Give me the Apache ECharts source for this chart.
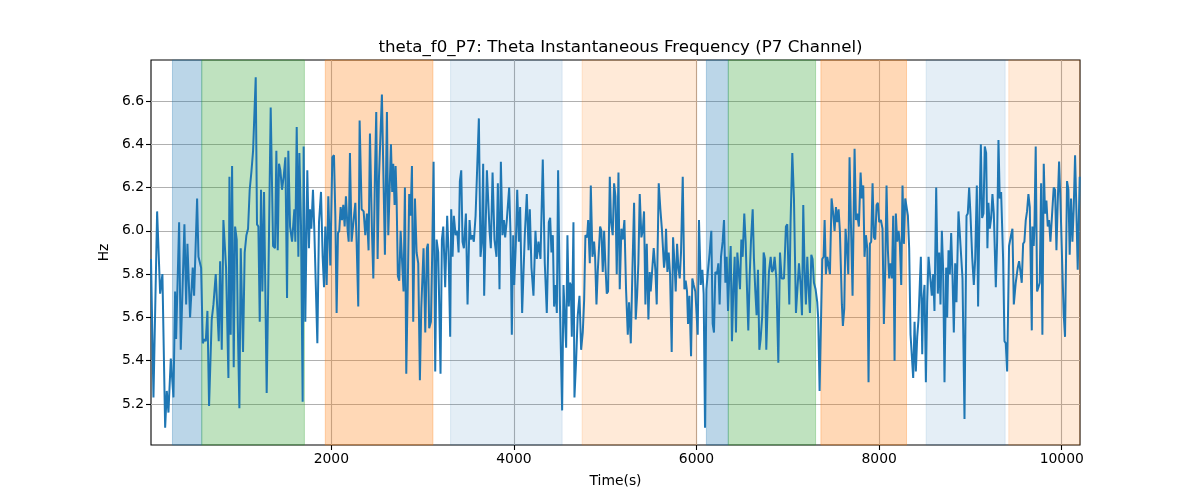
<!DOCTYPE html>
<html>
<head>
<meta charset="utf-8">
<script src="https://cdn.jsdelivr.net/npm/echarts@6/dist/echarts.min.js"></script>
<style>html,body{margin:0;padding:0;background:#fff}#c{width:1200px;height:500px}</style>
</head>
<body>
<div id="c"></div>
<script>
const times = [
25,52,92,125,150,180,198,216,242,271,289,300,333,351,391,410,424,453,482,497,530,545,574,592,610,625,643,661,690,709,734,752,767,782,800,818,836,847,
873,884,898,913,931,946,964,975,993,1008,1033,1051,1070,1088,1106,1124,1143,1157,1172,1186,1201,1216,1230,1245,1263,1292,1318,1336,1362,1383,1398,1413,1427,1442,1460,1478,1497,1515,1529,1548,1570,1584,1595,1606,1621,1639,1650,1668,1686,1697,
1715,1737,1755,1766,1781,1799,1814,1832,1847,1865,1887,1905,1920,1934,1949,1967,1989,2011,2029,2044,2058,2073,2087,2102,2117,2131,2146,2160,2179,2190,2204,2222,2244,2263,2277,2295,2310,2332,2354,2372,2390,2408,2423,2445,2460,2478,2492,2507,2522,2540,2554,
2587,2609,2624,2653,2667,2678,2693,2704,2715,2729,2744,2759,2777,2791,2806,2821,2839,2853,2868,2883,2897,2916,2934,2952,2970,2985,3010,3029,3047,3058,3072,3091,3105,3120,3138,3153,3171,3196,3211,3226,3247,3269,3284,3302,3313,3328,3342,3361,3379,3394,3408,
3423,3437,3452,3474,3492,3514,3528,3543,3561,3580,3598,3616,3634,3649,3663,3674,3704,3733,3747,3766,3787,3809,3824,3842,3857,3875,3890,3904,3922,3948,3963,3977,3992,4003,4021,4036,4054,4068,4090,4119,4141,4160,4174,4192,4214,4236,4251,4269,
4291,4316,4338,4360,4382,4397,4411,4426,4440,4455,4470,4484,4502,4513,4528,4543,4557,4572,4586,4601,4612,4623,4634,4652,4663,4681,4699,4718,4736,4754,4769,4783,4802,4813,4831,4842,4860,4878,4889,4904,4918,4944,4958,4973,4988,5002,5017,5031,5050,5064,5082,5097,5112,5126,
5145,5159,5177,5192,5210,5228,5247,5261,5280,5298,5316,5334,5349,5363,5378,5396,5411,5425,5440,5455,5473,5487,5498,5513,5531,5549,5564,5586,5604,5622,5644,5655,5666,5681,5695,5710,5728,5743,5761,5772,5787,5801,5816,5830,5849,5867,5881,5896,5907,5922,5940,5954,5969,
5987,6013,6027,6046,6064,6078,6093,6108,6126,6144,6162,6177,6191,6206,6224,6239,6253,6268,6286,6301,6316,6330,6345,6359,6374,6388,6403,6418,6432,6447,6461,6476,6491,6505,6523,6538,6553,6567,6582,6596,6615,6629,6644,6658,6673,6688,6702,6720,6735,6750,6764,6779,6793,6812,
6826,6841,6855,6874,6896,6914,6932,6958,6979,6994,7016,7030,7049,7067,7089,7103,7122,7140,7155,7169,7184,7198,7213,7228,7242,7257,7271,7286,7304,7322,7333,7348,7377,7392,7403,7417,7432,7446,7461,7479,7497,7512,7527,7541,7556,7570,7592,7603,7618,7632,7647,7662,7676,
7694,7709,7731,7746,7760,7778,7797,7811,7826,7840,7855,7870,7884,7899,7913,7928,7943,7957,7972,7986,8001,8019,8037,8052,8067,8081,8096,8110,8125,8140,8154,8169,8183,8198,8213,8227,8242,8256,8271,8286,8300,8315,8329,8344,8358,8373,8388,8402,8417,8431,8446,8457,8472,8482,8497,8512,8526,8541,8555,
8577,8592,8606,8625,8643,8658,8672,8687,8701,8716,8734,8745,8760,8774,8789,8803,8818,8833,8847,8869,8913,8935,8957,8971,8986,9000,9019,9037,9052,9070,9084,9099,9114,9128,9143,9157,9172,9186,9197,9212,9227,9241,9256,9278,9292,9307,9321,9336,9358,9373,9387,
9402,9423,9445,9460,9475,9496,9518,9533,9548,9562,9577,9591,9606,9620,9635,9650,9672,9679,9693,9701,9715,9730,9745,9759,9774,9788,9803,9817,9832,9847,9861,9876,9890,9912,9927,9942,9956,9971,9985,10007,10022,10036,10058,10073,10087,10102,10117,10131,10146,10160,10175,10197
];
const freqs = [
5.87,5.23,6.09,5.71,5.80,5.09,5.26,5.16,5.41,5.23,5.72,5.50,6.04,5.45,6.03,5.66,5.94,5.60,5.83,5.70,6.15,5.88,5.83,5.48,5.50,5.49,5.63,5.19,5.59,5.66,5.80,5.63,5.49,5.86,5.45,6.05,6.05,5.83,
5.32,6.25,5.52,6.30,5.37,6.02,5.96,5.58,5.18,5.92,5.44,5.90,5.98,6.01,6.19,6.27,6.37,6.37,6.71,6.03,6.02,5.58,6.19,5.72,6.18,5.25,6.00,6.57,5.93,5.92,6.37,5.91,6.31,6.28,6.19,6.25,6.34,5.69,6.37,6.02,5.95,5.95,6.10,5.95,6.48,5.88,6.36,6.02,5.21,6.39,
5.58,6.28,5.92,6.10,6.01,6.19,6.00,6.00,5.48,6.04,6.18,5.88,5.74,6.02,5.75,6.16,5.84,6.34,6.35,6.07,5.62,5.99,6.00,6.11,6.05,6.12,6.02,6.16,6.00,5.95,6.36,5.95,6.05,6.13,5.95,5.65,6.51,6.10,6.09,5.98,6.08,5.91,6.45,6.00,5.78,6.26,6.55,5.87,6.25,6.25,6.63,
5.89,6.55,5.98,6.40,6.18,6.31,6.12,6.30,6.15,5.79,5.77,6.00,6.00,5.72,6.20,5.34,5.79,6.17,6.07,6.30,5.58,6.15,5.90,5.85,5.31,5.64,5.92,5.53,5.92,5.94,5.55,5.58,5.90,6.32,5.35,5.96,5.90,5.34,5.96,6.02,5.74,6.07,5.90,5.51,6.10,5.88,6.07,5.98,6.00,5.90,6.23,
6.28,5.95,5.92,6.08,5.66,6.05,5.96,5.98,5.95,6.07,6.07,6.52,5.88,5.95,6.31,5.70,6.28,6.00,5.92,6.27,5.96,5.88,6.22,5.73,6.32,5.98,6.05,5.97,6.05,6.20,5.98,5.52,5.98,5.75,5.94,6.19,5.95,6.11,5.62,5.98,6.17,5.91,6.10,5.83,5.70,6.00,5.87,5.95,
5.87,6.33,5.85,5.62,6.04,6.06,5.90,5.98,5.65,5.75,5.62,6.28,5.70,5.47,5.17,5.75,5.75,5.46,5.98,5.65,5.76,5.75,5.51,6.04,5.23,5.40,5.61,5.70,5.45,5.53,5.68,5.98,5.97,6.05,5.85,6.21,5.88,5.95,5.88,5.66,5.81,6.02,6.00,5.81,6.00,5.84,5.71,5.72,6.25,6.04,5.98,6.22,6.16,5.80,
6.27,5.73,6.01,5.96,6.05,5.73,5.52,5.67,5.48,5.82,6.13,5.59,5.70,5.85,6.17,5.97,6.00,6.09,5.66,5.94,5.59,5.81,5.72,5.81,5.92,5.82,5.66,6.22,6.10,6.00,5.83,5.87,6.01,5.81,5.90,5.80,5.44,5.97,5.83,5.72,5.94,5.83,5.78,5.90,6.25,5.73,5.77,5.72,5.57,5.70,5.42,5.78,5.75,
5.72,5.52,6.05,5.75,5.82,5.71,5.09,5.73,5.82,5.90,6.00,5.57,5.53,5.81,5.80,5.85,5.66,5.88,5.95,6.05,5.76,5.88,5.63,5.80,5.93,5.49,5.73,5.88,5.53,5.90,5.90,5.73,5.96,5.88,6.08,5.95,5.73,5.54,5.79,5.95,6.10,5.87,5.72,5.61,5.82,5.45,5.50,5.61,5.90,5.87,5.45,5.65,5.81,5.88,
5.81,5.82,5.88,5.78,5.39,5.90,5.78,5.78,6.02,6.03,5.66,6.04,6.36,6.15,5.62,5.62,5.85,5.75,5.61,6.12,5.81,5.66,5.88,5.73,5.62,5.89,5.87,5.76,5.73,5.67,5.59,5.26,5.87,5.88,6.05,5.80,5.88,5.88,5.80,6.15,6.08,6.00,6.11,6.04,6.10,6.00,5.66,5.56,5.64,6.01,5.92,5.80,6.34,
5.98,5.70,6.38,6.05,6.08,6.02,6.27,6.15,6.21,5.88,5.98,5.92,5.30,5.94,5.95,6.22,5.97,5.96,6.12,6.13,6.04,6.05,6.01,5.57,5.82,6.21,5.91,5.78,5.85,5.78,6.07,5.40,6.08,5.95,6.00,5.94,5.75,6.21,5.94,6.15,6.15,6.07,5.92,5.52,5.52,5.32,5.58,5.35,5.51,5.59,5.76,5.88,5.43,5.67,5.75,5.30,5.67,5.88,5.81,
5.70,5.80,5.63,6.20,5.71,5.90,5.66,6.00,5.82,5.30,5.83,5.60,5.91,5.80,5.99,5.80,5.53,5.85,5.67,6.09,5.78,5.13,6.07,6.08,6.20,6.08,5.88,5.75,5.87,6.21,5.65,6.08,6.40,6.06,6.08,6.39,6.36,5.92,6.13,6.01,6.06,6.17,6.08,5.74,5.95,6.42,6.15,6.18,5.87,5.49,5.48,
5.35,5.93,5.98,6.01,5.66,5.76,5.83,5.86,5.81,5.76,5.94,5.95,6.05,6.09,6.17,6.11,5.54,6.02,5.93,6.02,6.39,5.72,5.74,5.76,6.22,5.52,6.31,6.08,6.14,6.02,6.05,5.95,5.95,6.20,6.19,5.91,6.13,6.32,6.15,5.82,5.61,5.51,6.23,6.19,5.89,6.15,5.95,6.10,6.35,6.10,5.82,6.25
];
const regionStarts = [260, 581, 1934, 3306, 4747, 6108, 6348, 7362, 8515, 9420];
const regionEnds   = [581, 1705, 3113, 4528, 6002, 6348, 7304, 8300, 9380, 10200];
const regionKinds  = ['A', 'B', 'C', 'D', 'E', 'A', 'B', 'C', 'D', 'E'];
const xTicks = [2000, 4000, 6000, 8000, 10000];
const yTicks = [5.2, 5.4, 5.6, 5.8, 6.0, 6.2, 6.4, 6.6];
const xRange = [25, 10200];
const yRange = [5.01, 6.79];

const kindColors = {
  A: 'rgba(31,119,180,0.3)',
  B: 'rgba(44,160,44,0.3)',
  C: 'rgba(255,127,14,0.3)',
  D: 'rgba(31,119,180,0.12)',
  E: 'rgba(255,127,14,0.16)'
};

const chart = echarts.init(document.getElementById('c'), null, {renderer: 'canvas'});
const font = 'DejaVu Sans';
const areas = regionStarts.map((s, i) => [
  {xAxis: s, itemStyle: {color: kindColors[regionKinds[i]], borderColor: kindColors[regionKinds[i]], borderWidth: 1}},
  {xAxis: regionEnds[i]}
]);
const option = {
  animation: false,
  backgroundColor: '#fff',
  title: {
    text: 'theta_f0_P7: Theta Instantaneous Frequency (P7 Channel)',
    left: 615.5, top: 34, textAlign: 'center',
    textStyle: {fontFamily: font, fontSize: 16.67, fontWeight: 'normal', color: '#000'}
  },
  grid: {left: 151, right: 120, top: 60, bottom: 55, show: true, borderColor: '#000', borderWidth: 1.1, backgroundColor: 'transparent'},
  xAxis: {
    type: 'value', min: xRange[0], max: xRange[1],
    name: 'Time(s)', nameLocation: 'middle', nameGap: 29,
    nameTextStyle: {fontFamily: font, fontSize: 13.9, color: '#000'},
    axisLine: {show: false},
    axisTick: {show: true, length: 5, lineStyle: {color: '#000', width: 1.1}, customValues: xTicks},
    axisLabel: {fontFamily: font, fontSize: 13.9, color: '#000', margin: 7, customValues: xTicks, formatter: v => String(v)},
    splitLine: {show: true, lineStyle: {color: '#b0b0b0', width: 1.1}}
  },
  yAxis: {
    type: 'value', min: yRange[0], max: yRange[1],
    name: 'Hz', nameLocation: 'middle', nameGap: 40, nameRotate: 90,
    nameTextStyle: {fontFamily: font, fontSize: 13.9, color: '#000'},
    axisLine: {show: false},
    axisTick: {show: true, length: 5, lineStyle: {color: '#000', width: 1.1}, customValues: yTicks},
    axisLabel: {fontFamily: font, fontSize: 13.9, color: '#000', margin: 7, customValues: yTicks, formatter: v => v.toFixed(1)},
    splitLine: {show: true, lineStyle: {color: '#b0b0b0', width: 1.1}}
  },
  series: [{
    type: 'line',
    data: times.map((t, i) => [t, freqs[i]]),
    showSymbol: false,
    lineStyle: {color: '#1f77b4', width: 2},
    itemStyle: {color: '#1f77b4'},
    markArea: {silent: true, data: areas},
    z: 3
  }]
};
chart.setOption(option);
</script>
</body>
</html>
